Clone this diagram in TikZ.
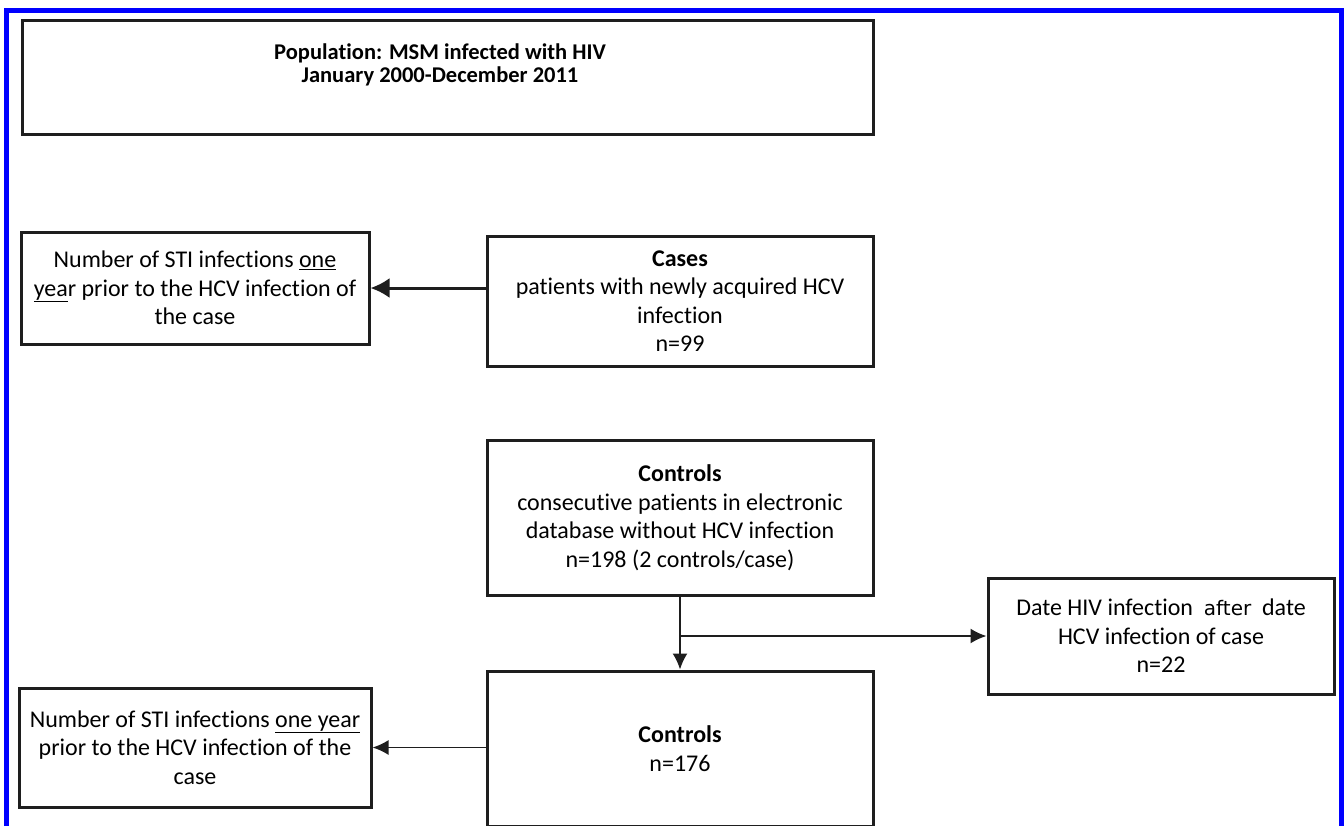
\documentclass[tikz,border=0pt]{standalone}
\usepackage{fontspec}
\setmainfont{Carlito}[Ligatures=NoCommon]
\newfontfamily\dvfont{DejaVu Sans}
\usetikzlibrary{arrows.meta}
\definecolor{frameblue}{RGB}{0,0,255}
\definecolor{boxline}{RGB}{30,30,30}
\begin{document}
\begin{tikzpicture}[x=1pt,y=-1pt,
  box/.style={draw=boxline, line width=3pt, inner sep=0pt, align=center,
    font=\fontsize{24}{28.5}\selectfont},
  toptext/.style={inner sep=0pt, align=center, font=\bfseries\fontsize{22.5}{23}\selectfont},
  thickarrow/.style={draw=boxline, line width=3pt, -{Latex[length=19pt,width=20pt]}},
  thinarrow/.style={draw=boxline, line width=1.8pt, -{Latex[length=16pt,width=15pt]}}
]
\useasboundingbox (0,0) rectangle (1344,825);
\clip (0,0) rectangle (1344,825);
\fill[white] (0,0) rectangle (1344,825);
\draw[frameblue, line width=5pt] (6,10) rectangle (1341,900);

\node[box, minimum width=851pt, minimum height=114pt] (pop) at (447.5,77) {};
\node[toptext] (poptext) at (440,65)
  {Population: MSM infected with HIV\\January 2000-December 2011};

\node[box, minimum width=348pt, minimum height=112pt] (sti1) at (195,288)
  {Number of STI infections \underline{one}\\\underline{yea}r prior to the HCV infection of\\the case};

\node[box, minimum width=386pt, minimum height=130pt] (cases) at (680,301)
  {\textbf{Cases}\\patients with newly acquired HCV\\infection\\n=99};

\node[box, minimum width=386pt, minimum height=155pt] (ctrl) at (680,517.5)
  {\textbf{Controls}\\consecutive patients in electronic\\database without HCV infection\\n=198 (2 controls/case)};

\node[box, minimum width=346pt, minimum height=116pt] (date) at (1161,636)
  {Date HIV infection \ {\dvfont\fontsize{20}{28}\selectfont after}\ \ date\\HCV infection of case\\n=22};

\node[box, minimum width=386pt, minimum height=155pt] (ctrl2) at (680,748.5)
  {\textbf{Controls}\\n=176};

\node[box, minimum width=352pt, minimum height=119pt] (sti2) at (195,747.5)
  {Number of STI infections \underline{one year}\\prior to the HCV infection of the\\case};

\draw[thickarrow] (cases.west |- sti1.east) -- (sti1.east);
\draw[thinarrow] (ctrl.south) -- (ctrl2.north);
\draw[thinarrow] (ctrl.south |- date.west) -- (date.west);
\draw[thinarrow] (ctrl2.west |- sti2.east) -- (sti2.east);
\end{tikzpicture}
\end{document}
